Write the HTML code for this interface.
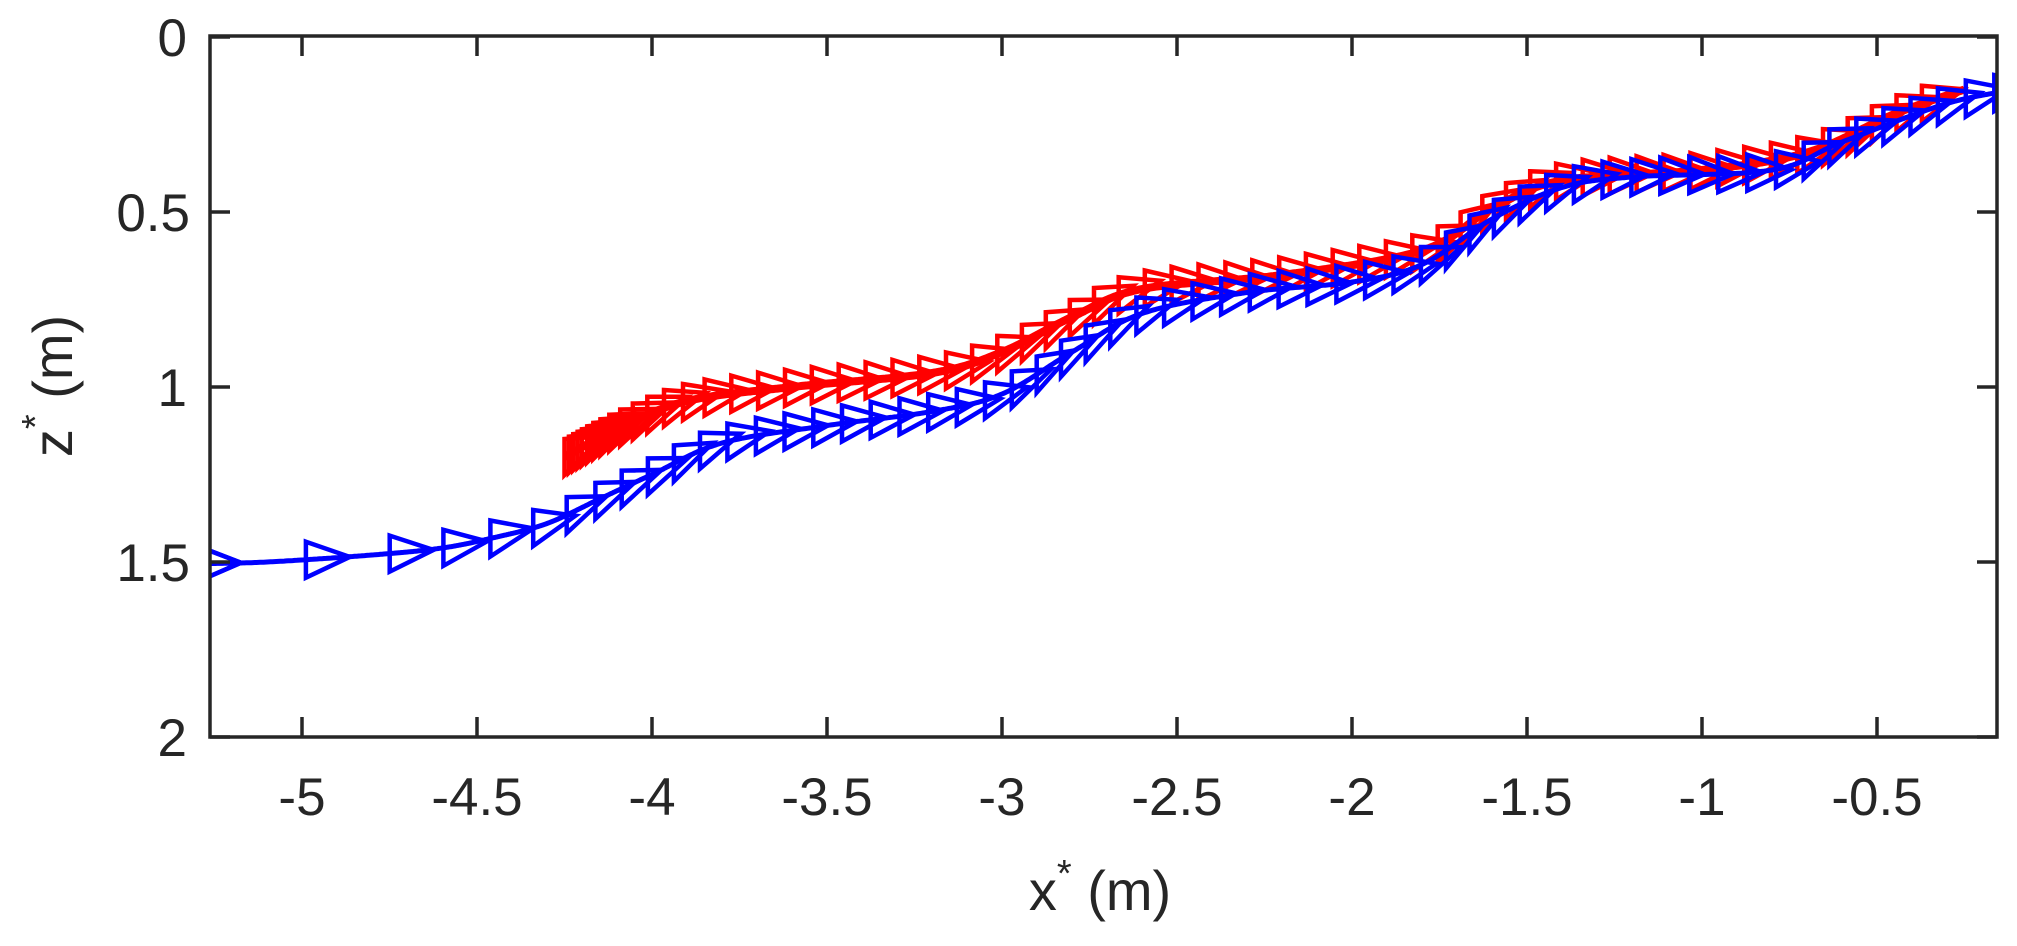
<!DOCTYPE html>
<html><head><meta charset="utf-8"><style>
html,body{margin:0;padding:0;background:#fff;}
svg{display:block;}
text{font-family:"Liberation Sans",Arial,sans-serif;fill:#262626;}
</style></head><body>
<svg id="s" width="2017" height="946" viewBox="0 0 2017 946" xmlns="http://www.w3.org/2000/svg">
<defs><clipPath id="c"><rect x="210" y="36" width="1787" height="701"/></clipPath></defs>
<g id="plot" clip-path="url(#c)"></g>
<rect x="210" y="36" width="1787" height="701" fill="none" stroke="#262626" stroke-width="3.5"/>
<g id="ticks" stroke="#262626" stroke-width="3.5"></g>
<g font-size="53" text-anchor="middle">
<text x="302" y="815">-5</text><text x="477" y="815">-4.5</text><text x="652" y="815">-4</text>
<text x="827" y="815">-3.5</text><text x="1002" y="815">-3</text><text x="1177" y="815">-2.5</text>
<text x="1352" y="815">-2</text><text x="1527" y="815">-1.5</text><text x="1702" y="815">-1</text>
<text x="1877" y="815">-0.5</text>
</g>
<g font-size="53" text-anchor="end">
<text x="187" y="56">0</text><text x="190" y="231">0.5</text><text x="187" y="406">1</text>
<text x="190" y="581">1.5</text><text x="187" y="756">2</text>
</g>
<text x="1100" y="910" font-size="56" text-anchor="middle">x<tspan font-size="38" dy="-24">*</tspan><tspan dy="24"> (m)</tspan></text>
<text transform="translate(72,386) rotate(-90)" font-size="56" text-anchor="middle">z<tspan font-size="38" dy="-24">*</tspan><tspan dy="24"> (m)</tspan></text>
</svg>
<script>
var NS="http://www.w3.org/2000/svg";
function X(x){return 302+(x+5)*350;}function Y(z){return 37+z*350;}
var tk=document.getElementById('ticks'),d='';
for(var i=0;i<10;i++){var x=302+i*175;d+='M'+x+' 737V717M'+x+' 36V56';}
for(var j=0;j<5;j++){var y=37+j*175;d+='M210 '+y+'H230M1997 '+y+'H1977';}
var p=document.createElementNS(NS,'path');p.setAttribute('d',d);p.setAttribute('fill','none');tk.appendChild(p);
function spline(pts){var out=[];for(var i=0;i<pts.length-1;i++){var p0=pts[Math.max(0,i-1)],p1=pts[i],p2=pts[i+1],p3=pts[Math.min(pts.length-1,i+2)];
for(var t=0;t<1;t+=0.02){var t2=t*t,t3=t2*t;
var f=function(a,b,c,e){return 0.5*(2*b+(-a+c)*t+(2*a-5*b+4*c-e)*t2+(-a+3*b-3*c+e)*t3);};
out.push([f(p0[0],p1[0],p2[0],p3[0]),f(p0[1],p1[1],p2[1],p3[1])]);}}
out.push(pts[pts.length-1]);return out;}
function draw(data,color,gaps,def,lw){
var pts=data.map(function(a){return [X(a[0]),Y(a[1])];});var sp=spline(pts);
var g=document.getElementById('plot');
var pl=document.createElementNS(NS,'polyline');pl.setAttribute('points',sp.map(function(a){return a[0].toFixed(1)+','+a[1].toFixed(1);}).join(' '));
pl.setAttribute('fill','none');pl.setAttribute('stroke',color);pl.setAttribute('stroke-width',lw);g.appendChild(pl);
var cum=[0];for(var i=1;i<sp.length;i++)cum.push(cum[i-1]+Math.hypot(sp[i][0]-sp[i-1][0],sp[i][1]-sp[i-1][1]));
var total=cum[cum.length-1],s=0,k=0,idx=0;
while(s<=total-20){while(idx<cum.length-2&&cum[idx+1]<s)idx++;
var a=sp[idx],b=sp[idx+1],f=(s-cum[idx])/((cum[idx+1]-cum[idx])||1);
var x=a[0]+(b[0]-a[0])*f,y=a[1]+(b[1]-a[1])*f;
var dx=b[0]-a[0],dy=b[1]-a[1],n=Math.hypot(dx,dy)||1;dx/=n;dy/=n;
var L=44,H=18;
var pts2=[x,y-H,x+dx*L,y+dy*L,x,y+H];
var t=document.createElementNS(NS,'polygon');
t.setAttribute('points',pts2[0].toFixed(1)+','+pts2[1].toFixed(1)+' '+pts2[2].toFixed(1)+','+pts2[3].toFixed(1)+' '+pts2[4].toFixed(1)+','+pts2[5].toFixed(1));
t.setAttribute('fill','none');t.setAttribute('stroke',color);t.setAttribute('stroke-width','4.5');t.setAttribute('stroke-linejoin','miter');
g.appendChild(t);
s+=(k<gaps.length?gaps[k]:def);k++;}}
var blue=[[-5.3,1.505],[-5.1,1.5],[-4.8,1.48],[-4.6,1.46],[-4.45,1.43],[-4.3,1.39],[-4.15,1.32],[-4.0,1.25],[-3.8,1.16],[-3.5,1.11],[-3.2,1.07],[-3.0,1.02],[-2.8,0.9],[-2.6,0.79],[-2.3,0.73],[-2.0,0.7],[-1.8,0.65],[-1.6,0.52],[-1.4,0.43],[-1.2,0.4],[-0.8,0.38],[-0.6,0.3],[-0.3,0.19],[-0.1,0.15]];
var red=[[-4.25,1.2],[-4.1,1.12],[-3.9,1.04],[-3.6,1.0],[-3.2,0.96],[-3.0,0.9],[-2.8,0.8],[-2.6,0.72],[-2.2,0.68],[-1.8,0.61],[-1.6,0.49],[-1.4,0.41],[-1.0,0.38],[-0.7,0.33],[-0.45,0.22],[-0.25,0.15]];
draw(red,'#ff0000',[5,5,5,5,6,7,8,10,12,14,16,18,20,22],27,8);
draw(blue,'#0000ff',[0,109,84,54,48,44,36,32],29,5);
</script>
</body></html>
